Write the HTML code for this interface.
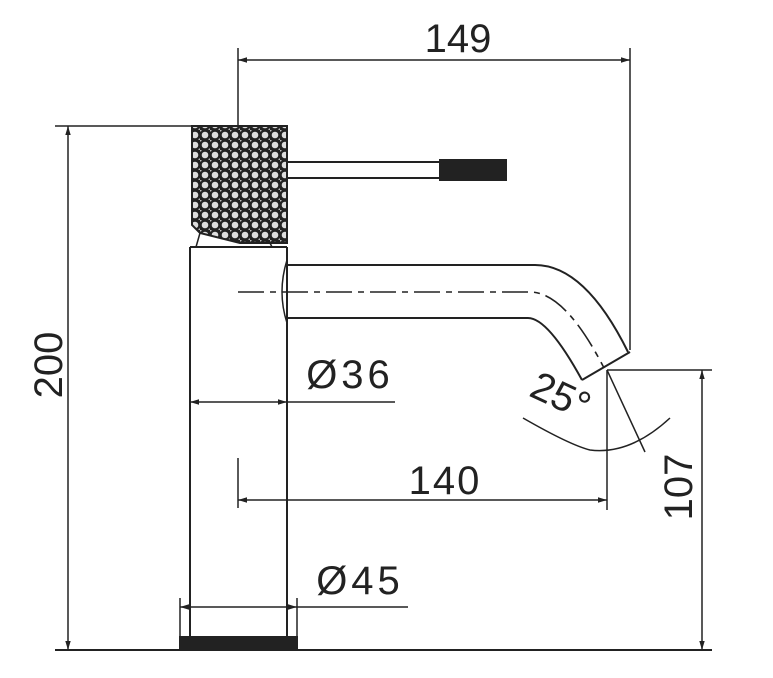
<!DOCTYPE html>
<html><head><style>body{margin:0;background:#fff}svg{display:block}</style></head><body>
<svg width="773" height="678" viewBox="0 0 773 678" xmlns="http://www.w3.org/2000/svg">
<defs>
<pattern id="kn" width="10" height="10" patternUnits="userSpaceOnUse">
<rect width="10" height="10" fill="#222"/>
<circle cx="5" cy="5" r="3.3" fill="#ddd"/>
<circle cx="0" cy="0" r="1.6" fill="#bbb"/><circle cx="10" cy="10" r="1.6" fill="#bbb"/>
</pattern>
<marker id="a" viewBox="0 0 10 10" refX="10" refY="5" markerWidth="9" markerHeight="6" orient="auto-start-reverse"><path d="M0,2 L10,5 L0,8 z" fill="#222"/></marker>
</defs>
<g stroke="#222" stroke-width="2" fill="none">
<!-- base -->
<line x1="55" y1="650" x2="712" y2="650"/>
<rect x="180" y="637" width="117" height="13" fill="#222"/>
<!-- body -->
<line x1="190" y1="247" x2="190" y2="637"/>
<line x1="287" y1="247" x2="287" y2="637"/>
<line x1="190" y1="247" x2="287" y2="247"/>
<!-- spout -->
<path d="M287,265 L535,265 Q585,265 628,352"/>
<path d="M287,318 L528,318 Q548,318 582,380"/>
<line x1="582" y1="380" x2="630" y2="352"/>
<path d="M287,260 Q277,292 287,323" stroke-width="1.5"/>
<path d="M238,292 L530,292 Q565,292 604,368" stroke-dasharray="26,6,6,6" stroke-width="1.6"/>
<!-- lever -->
<line x1="287" y1="162" x2="440" y2="162"/>
<line x1="287" y1="178" x2="440" y2="178"/>
<rect x="440" y="160" width="66" height="20" fill="#222"/>
<!-- dims 149 -->
<line x1="238" y1="48" x2="238" y2="126" stroke-width="1.5"/>
<line x1="630" y1="48" x2="630" y2="350" stroke-width="1.5"/>
<line x1="238" y1="60" x2="630" y2="60" stroke-width="1.5" marker-start="url(#a)" marker-end="url(#a)"/>
<!-- 200 -->
<line x1="55" y1="126" x2="192" y2="126" stroke-width="1.5"/>
<line x1="68" y1="126" x2="68" y2="650" stroke-width="1.5" marker-start="url(#a)" marker-end="url(#a)"/>
<!-- Ø36 -->
<line x1="190" y1="402" x2="287" y2="402" stroke-width="1.5" marker-start="url(#a)" marker-end="url(#a)"/>
<line x1="287" y1="402" x2="395" y2="402" stroke-width="1.5"/>
<!-- 140 -->
<line x1="238" y1="458" x2="238" y2="508" stroke-width="1.5"/>
<line x1="607" y1="370" x2="607" y2="510" stroke-width="1.5"/>
<line x1="238" y1="500" x2="607" y2="500" stroke-width="1.5" marker-start="url(#a)" marker-end="url(#a)"/>
<!-- Ø45 -->
<line x1="180" y1="598" x2="180" y2="650" stroke-width="1.5"/>
<line x1="297" y1="598" x2="297" y2="650" stroke-width="1.5"/>
<line x1="180" y1="607" x2="297" y2="607" stroke-width="1.5" marker-start="url(#a)" marker-end="url(#a)"/>
<line x1="297" y1="607" x2="408" y2="607" stroke-width="1.5"/>
<!-- 107 -->
<line x1="607" y1="370" x2="712" y2="370" stroke-width="1.5"/>
<line x1="702" y1="370" x2="702" y2="650" stroke-width="1.5" marker-start="url(#a)" marker-end="url(#a)"/>
<!-- 25 -->
<line x1="607" y1="370" x2="645" y2="452" stroke-width="1.5"/>
<path d="M523,418 Q570,445 590,450 Q630,455 670,418" stroke-width="1.5"/>
</g>
<!-- handle knurl -->
<path d="M192,126 L287,126 L287,243 L240,243 L200,233 L192,225 Z" fill="url(#kn)" stroke="#222" stroke-width="2"/>
<path d="M200,233 L196,247 M270,243 L272,247" stroke="#222" stroke-width="1.5"/>
<g font-family="Liberation Sans, sans-serif" fill="#222" font-size="40">
<text x="458" y="52" text-anchor="middle">149</text>
<text transform="translate(62,365) rotate(-90)" text-anchor="middle">200</text>
<text x="350" y="388" text-anchor="middle" letter-spacing="4">Ø36</text>
<text x="445" y="494" text-anchor="middle" letter-spacing="2">140</text>
<text x="360" y="594" text-anchor="middle" letter-spacing="4">Ø45</text>
<text transform="translate(692,487) rotate(-90)" text-anchor="middle">107</text>
<text transform="translate(555,408) rotate(25)" text-anchor="middle">25°</text>
</g>
</svg>
</body></html>
